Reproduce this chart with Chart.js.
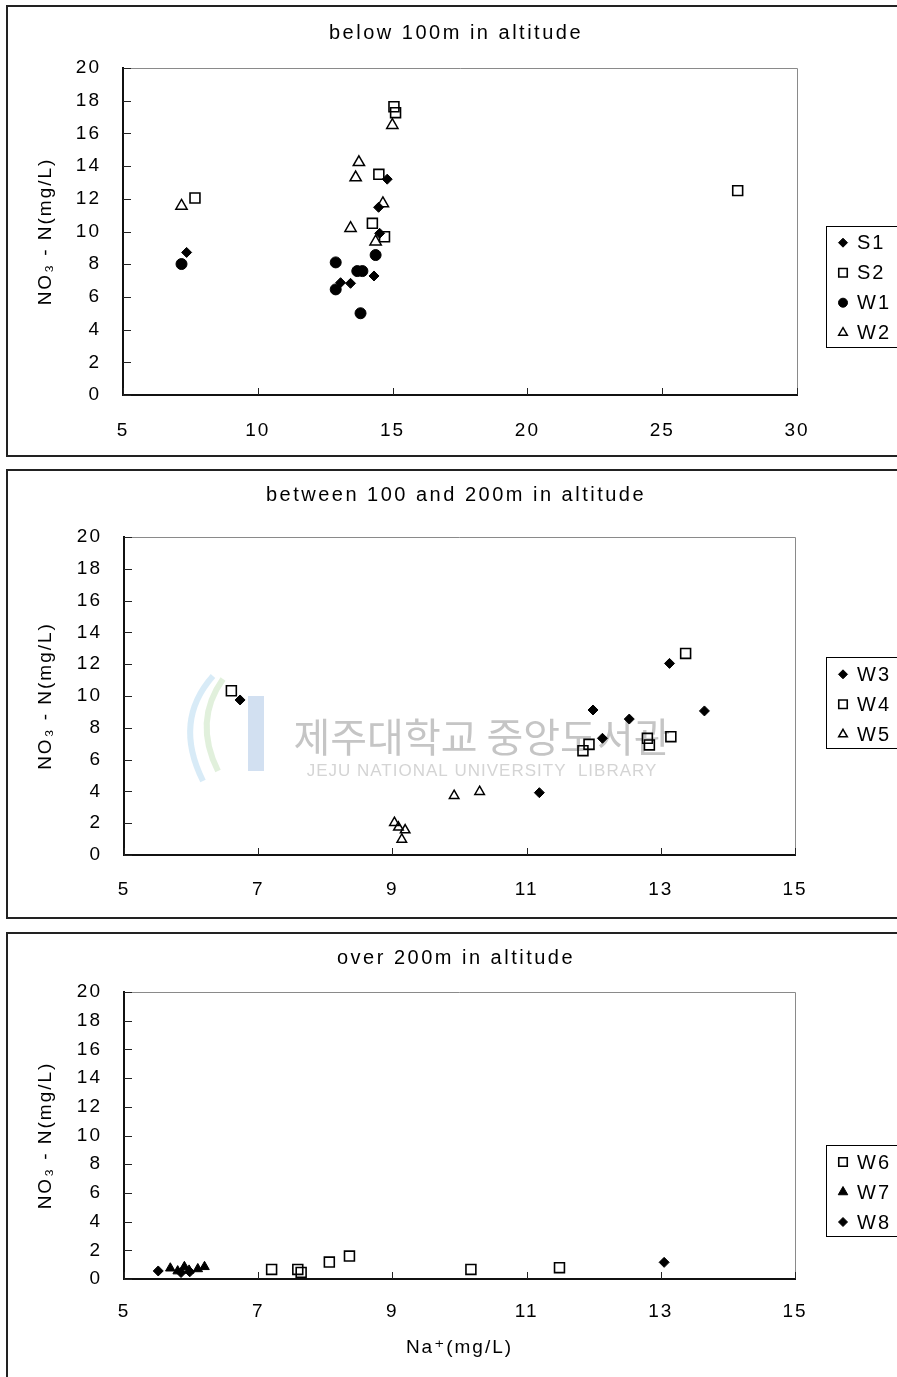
<!DOCTYPE html>
<html><head><meta charset="utf-8">
<script src="https://cdn.jsdelivr.net/npm/chart.js@4.4.0/dist/chart.umd.min.js"></script>
<style>
html,body{margin:0;padding:0;background:#fff;overflow:hidden;width:897px;height:1377px;}
.frame{position:absolute;border:2px solid #222;box-sizing:border-box;}
canvas{position:absolute;}
</style></head><body>
<div class="frame" style="left:6px;top:5px;width:1000px;height:452px"></div>
<div class="frame" style="left:6px;top:469px;width:1000px;height:450px"></div>
<div class="frame" style="left:6px;top:932px;width:1000px;height:500px"></div>
<canvas id="c1" width="889" height="448" style="left:8px;top:7px"></canvas>
<canvas id="c2" width="889" height="446" style="left:8px;top:471px"></canvas>
<canvas id="c3" width="889" height="443" style="left:8px;top:934px"></canvas>
<script>
// ---------- data ----------
const yTickValues = [0,2,4,6,8,10,12,14,16,18,20];
const xTickValues1 = [5,10,15,20,25,30];
const xTickValues23 = [5,7,9,11,13,15];

const titles = ['below 100m in altitude', 'between 100 and 200m in altitude', 'over 200m in altitude'];
const yAxisTitle = 'NO\u2083 - N(mg/L)';
const xAxisTitle = 'Na\u207A(mg/L)';

// panel 1 : below 100 m
const s1X = [7.36, 14.80, 14.48, 14.52, 14.31, 13.07, 13.44];
const s1Y = [8.72, 13.20, 11.48, 9.89, 7.28, 6.87, 6.83];
const s2X = [7.67, 15.05, 15.11, 14.49, 14.25, 14.70, 27.80];
const s2Y = [12.05, 17.63, 17.27, 13.50, 10.50, 9.68, 12.50];
const w1X = [7.17, 12.89, 12.89, 13.69, 13.88, 14.37, 13.81];
const w1Y = [8.01, 8.11, 6.46, 7.58, 7.58, 8.56, 5.00];
const w2X = [7.17, 13.75, 13.63, 14.99, 14.64, 13.44, 14.37];
const w2Y = [11.56, 14.23, 13.30, 16.50, 11.72, 10.20, 9.38];

// panel 2 : between 100 and 200 m
const w3X = [6.73, 11.99, 12.53, 12.13, 13.13, 13.65, 11.19];
const w3Y = [9.75, 9.12, 8.55, 7.34, 12.05, 9.06, 3.92];
const w4X = [6.60, 11.84, 11.93, 12.80, 12.83, 13.15, 13.37];
const w4Y = [10.33, 6.56, 6.96, 7.34, 6.92, 7.44, 12.68];
const w5X = [9.03, 9.09, 9.19, 9.14, 9.92, 10.30];
const w5Y = [2.03, 1.74, 1.57, 0.98, 3.73, 3.98];

// panel 3 : over 200 m
const w6X = [7.20, 7.59, 7.64, 8.06, 8.36, 10.17, 11.49];
const w6Y = [0.67, 0.67, 0.46, 1.18, 1.60, 0.67, 0.79];
const w7X = [5.69, 5.80, 5.90, 5.97, 6.10, 6.20];
const w7Y = [0.75, 0.55, 0.85, 0.60, 0.70, 0.85];
const w8X = [5.51, 5.85, 5.98, 13.05];
const w8Y = [0.56, 0.45, 0.50, 1.16];

// ---------- setup ----------
const FONT = "'Liberation Sans', Arial, 'DejaVu Sans', sans-serif";
const LS = '2px';
Chart.defaults.font.family = FONT;
Chart.defaults.color = '#000';
Chart.defaults.animation = false;

function pts(xs, ys){ return xs.map((x,i)=>({x:x, y:ys[i]})); }

const STY = {
  diamond: {pointStyle:'rectRot', pointRadius:5, backgroundColor:'#000', borderColor:'#000', borderWidth:1, legendRadius:4.5},
  square: {pointStyle:'rect', pointRadius:7, backgroundColor:'rgba(0,0,0,0)', borderColor:'#000', borderWidth:1.6, legendRadius:6},
  circle: {pointStyle:'circle', pointRadius:5.5, backgroundColor:'#000', borderColor:'#000', borderWidth:1, legendRadius:4.5},
  triangle: {pointStyle:'triangle', pointRadius:6.5, backgroundColor:'rgba(0,0,0,0)', borderColor:'#000', borderWidth:1.5, legendRadius:5},
  triangleS: {pointStyle:'triangle', pointRadius:5.5, backgroundColor:'rgba(0,0,0,0)', borderColor:'#000', borderWidth:1.5, legendRadius:5},
  triFill: {pointStyle:'triangle', pointRadius:5.5, backgroundColor:'#000', borderColor:'#000', borderWidth:1, legendRadius:5.5}
};
function ds(label, xs, ys, sty){
  return Object.assign({label:label, data:pts(xs,ys), pointHoverRadius:STY[sty].pointRadius}, STY[sty]);
}

const spacingPlugin = {
  id:'spacing',
  beforeUpdate(c){ c.ctx.letterSpacing = LS; },
  beforeDraw(c){ c.ctx.letterSpacing = LS; }
};

const panelTitlePlugin = {
  id:'panelTitle',
  afterDraw(chart, args, o){
    if (!o || !o.text) return;
    const ctx = chart.ctx;
    ctx.save();
    ctx.letterSpacing = '2.5px';
    ctx.font = '20px ' + FONT;
    ctx.fillStyle = '#000';
    ctx.textAlign = 'center'; ctx.textBaseline = 'middle';
    ctx.fillText(o.text, o.x, o.y);
    ctx.restore();
  }
};

const framePlugin = {
  id:'frameTicks',
  afterDraw(chart){
    const ctx = chart.ctx, a = chart.chartArea, xs = chart.scales.x, ys = chart.scales.y;
    ctx.save();
    ctx.strokeStyle = '#8a8a8a'; ctx.lineWidth = 1;
    ctx.beginPath();
    ctx.moveTo(a.left, Math.round(a.top)+0.5);
    ctx.lineTo(Math.round(a.right)+0.5, Math.round(a.top)+0.5);
    ctx.lineTo(Math.round(a.right)+0.5, a.bottom);
    ctx.stroke();
    ctx.strokeStyle = '#222'; ctx.lineWidth = 1;
    ctx.beginPath();
    xs.ticks.forEach(t=>{
      const p = Math.round(xs.getPixelForValue(t.value))+0.5;
      ctx.moveTo(p, a.bottom); ctx.lineTo(p, a.bottom-7);
    });
    ys.ticks.forEach(t=>{
      const p = Math.round(ys.getPixelForValue(t.value))+0.5;
      ctx.moveTo(a.left, p); ctx.lineTo(a.left+8, p);
    });
    ctx.stroke();
    ctx.restore();
  }
};

const legendPlugin = {
  id:'boxLegend',
  afterDraw(chart, args, o){
    if (!o || o.top === undefined) return;
    const ctx = chart.ctx, dsets = chart.data.datasets;
    const left = o.left, top = o.top, h = dsets.length*30 + 1;
    ctx.save();
    ctx.letterSpacing = LS;
    ctx.strokeStyle = '#000'; ctx.lineWidth = 1;
    ctx.strokeRect(Math.round(left)+0.5, Math.round(top)+0.5, chart.width, h);
    dsets.forEach((d,i)=>{
      const cy = top + 17 + i*30;
      ctx.fillStyle = d.backgroundColor; ctx.strokeStyle = d.borderColor; ctx.lineWidth = d.borderWidth;
      Chart.helpers.drawPoint(ctx, {pointStyle:d.pointStyle, radius:d.legendRadius, borderWidth:d.borderWidth, rotation:0}, left+17, cy);
      ctx.fillStyle = '#000';
      ctx.font = '20px ' + FONT;
      ctx.textBaseline = 'middle'; ctx.textAlign = 'left';
      ctx.fillText(d.label, left+31, cy+1);
    });
    ctx.restore();
  }
};

const watermarkPlugin = {
  id:'watermark',
  beforeDatasetsDraw(chart, args, o){
    if (!o || !o.show) return;
    const ctx = chart.ctx;
    ctx.save();
    ctx.letterSpacing = '0px';
    ctx.textAlign = 'center'; ctx.textBaseline = 'middle';
    ctx.fillStyle = 'rgba(150,150,150,0.55)';
    ctx.font = "40px 'Noto Sans CJK KR', sans-serif";
    ctx.fillText('\uC81C\uC8FC\uB300\uD559\uAD50 \uC911\uC559\uB3C4\uC11C\uAD00', 474, 266);
    ctx.fillStyle = 'rgba(170,170,170,0.5)';
    ctx.font = "17px " + FONT;
    ctx.letterSpacing = '1px';
    ctx.fillText('JEJU NATIONAL UNIVERSITY  LIBRARY', 474, 300);
    // faint logo
    ctx.globalAlpha = 0.35;
    ctx.lineWidth = 6;
    ctx.strokeStyle = '#8fc7e8';
    ctx.beginPath(); ctx.moveTo(205,205); ctx.quadraticCurveTo(165,250,195,310); ctx.stroke();
    ctx.strokeStyle = '#a8d59a';
    ctx.beginPath(); ctx.moveTo(215,208); ctx.quadraticCurveTo(185,250,210,300); ctx.stroke();
    ctx.fillStyle = '#7fa6d6';
    ctx.fillRect(240,225,16,75);
    ctx.restore();
  }
};

function makeChart(id, cfg){
  const canvas = document.getElementById(id);
  return new Chart(canvas, {
    type:'scatter',
    data:{datasets:cfg.datasets},
    options:{
      responsive:false,
      animation:false,
      events:[],
      layout:{padding:{left:0, right:cfg.padRight, top:cfg.padTop, bottom:0}},
      plugins:{
        legend:{display:false},
        tooltip:{enabled:false},
        title:{display:false},
        panelTitle:{text:cfg.title, x:448, y:cfg.titleY},
        boxLegend:{left:818, top:cfg.legendTop},
        watermark:{show:!!cfg.watermark}
      },
      scales:{
        x:{
          type:'linear', min:cfg.xMin, max:cfg.xMax,
          afterBuildTicks:(s)=>{ s.ticks = cfg.xTicks.map(v=>({value:v})); },
          afterFit:(s)=>{ s.height = cfg.xH; },
          grid:{display:false, drawTicks:false},
          border:{display:true, color:'#111', width:2},
          ticks:{padding:cfg.xPad, font:{size:19}, color:'#000', autoSkip:false, maxRotation:0},
          title: cfg.xTitle ? {display:true, text:cfg.xTitle, color:'#000', font:{size:19}, padding:{top:0, bottom:18}} : {display:false}
        },
        y:{
          type:'linear', min:0, max:20,
          afterBuildTicks:(s)=>{ s.ticks = yTickValues.map(v=>({value:v})); },
          afterFit:(s)=>{ s.width = cfg.yW; },
          grid:{display:false, drawTicks:false},
          border:{display:true, color:'#111', width:2},
          ticks:{padding:22, font:{size:19}, color:'#000'},
          title:{display:true, text:yAxisTitle, color:'#000', font:{size:19}, padding:{top:26, bottom:0}}
        }
      }
    },
    plugins:[spacingPlugin, watermarkPlugin, framePlugin, legendPlugin, panelTitlePlugin]
  });
}

makeChart('c1', {
  title:titles[0], titleY:26, padTop:61, xMin:5, xMax:30, xTicks:xTickValues1,
  yW:115, padRight:100, xH:60, xPad:24, legendTop:218.7,
  datasets:[ds('S1', s1X, s1Y, 'diamond'), ds('S2', s2X, s2Y, 'square'), ds('W1', w1X, w1Y, 'circle'), ds('W2', w2X, w2Y, 'triangle')]
});
makeChart('c2', {
  title:titles[1], titleY:24, padTop:66, xMin:5, xMax:15, xTicks:xTickValues23,
  yW:116, padRight:102, xH:62, xPad:23, legendTop:186.3, watermark:true,
  datasets:[ds('W3', w3X, w3Y, 'diamond'), ds('W4', w4X, w4Y, 'square'), ds('W5', w5X, w5Y, 'triangleS')]
});
makeChart('c3', {
  title:titles[2], titleY:24, padTop:58, xMin:5, xMax:15, xTicks:xTickValues23, xTitle:xAxisTitle,
  yW:116, padRight:102, xH:98, xPad:21, legendTop:211,
  datasets:[ds('W6', w6X, w6Y, 'square'), ds('W7', w7X, w7Y, 'triFill'), ds('W8', w8X, w8Y, 'diamond')]
});
</script>
</body></html>
